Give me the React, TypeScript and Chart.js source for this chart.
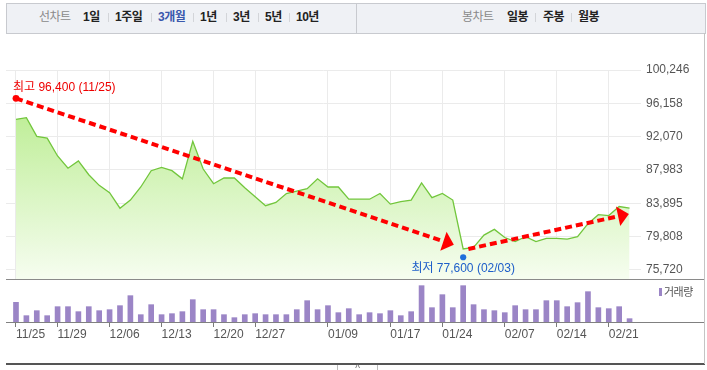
import React, { useEffect, useRef } from 'react';
import { Chart, registerables } from 'chart.js';

Chart.register(...registerables);

// ---------- data ----------
const dates = [
  '11/25', '11/26', '11/27', '11/28', '11/29',
  '12/02', '12/03', '12/04', '12/05', '12/06', '12/09', '12/10', '12/11', '12/12', '12/13',
  '12/16', '12/17', '12/18', '12/19', '12/20', '12/23', '12/24', '12/26', '12/27', '12/30',
  '01/02', '01/03', '01/06', '01/07', '01/08', '01/09', '01/10', '01/13', '01/14', '01/15',
  '01/16', '01/17', '01/20', '01/21', '01/22', '01/23', '01/24', '01/31',
  '02/03', '02/04', '02/05', '02/06', '02/07', '02/10', '02/11', '02/12', '02/13', '02/14',
  '02/17', '02/18', '02/19', '02/20', '02/21', '02/24', '02/25',
];

const closePrices = [
  94200, 94400, 92100, 91900, 89700, 88200, 89100, 87400, 86100, 85200,
  83300, 84300, 85900, 87900, 88300, 87900, 86900, 91500, 88100, 86300,
  87000, 87000, 85800, 84700, 83600, 84000, 85100, 85400, 85700, 86900,
  85900, 85900, 84400, 84400, 84400, 85100, 83800, 84100, 84300, 86400,
  84600, 85100, 84300, 78300, 78500, 80000, 80700, 79700, 79200, 79800,
  79200, 79600, 79600, 79500, 79800, 81400, 82500, 82400, 83500, 83300,
];

// volume (만 주)
const volumes = [
  59, 19, 34, 19, 46, 46, 31, 46, 34, 37,
  49, 79, 22, 52, 22, 25, 31, 67, 37, 37,
  22, 13, 22, 25, 22, 22, 22, 37, 64, 37,
  49, 28, 40, 22, 28, 25, 34, 19, 31, 109,
  43, 82, 43, 109, 52, 37, 34, 28, 49, 37,
  37, 64, 64, 46, 58, 91, 43, 40, 46, 10,
];

const xTickLabels = ['11/25', '11/29', '12/06', '12/13', '12/20', '12/27', '01/09', '01/17', '01/24', '02/07', '02/14', '02/21'];
const priceTicks = [75720, 79808, 83895, 87983, 92070, 96158, 100246];
const priceMin = 74616;
const priceMax = 100246;
const volumeMax = 129;

const highDate = '11/25';
const highValue = 96400;
const lowDate = '02/03';
const lowValue = 77600;

// trend arrows: [startIndex, startValue, endIndex, endValue]
const trendUpStart = [43.5, 78300];
const trendUpEnd = [57.9, 82300];
const trendDownEnd = [41.1, 79250];

const tabLeft = [
  { t: '선차트', x: 39, c: '#8a8a8a', b: false },
  { t: '1일', x: 83, c: '#222', b: true },
  { t: '1주일', x: 115, c: '#222', b: true },
  { t: '3개월', x: 158, c: '#3a58ad', b: true },
  { t: '1년', x: 200, c: '#222', b: true },
  { t: '3년', x: 233, c: '#222', b: true },
  { t: '5년', x: 265, c: '#222', b: true },
  { t: '10년', x: 296, c: '#222', b: true },
  { t: '봉차트', x: 462, c: '#8a8a8a', b: false },
  { t: '일봉', x: 507, c: '#222', b: true },
  { t: '주봉', x: 543, c: '#222', b: true },
  { t: '월봉', x: 578, c: '#222', b: true },
];
const tabSeps = [108, 151, 193, 226, 258, 289, 535, 571];

const FONT = "'Liberation Sans', Arial, 'Noto Sans CJK KR', sans-serif";
const xMin = -0.96;
const xMax = 60.1;
const tickIdx = xTickLabels.map((d) => dates.indexOf(d));

function drawArrow(ctx: CanvasRenderingContext2D, x1: number, y1: number, x2: number, y2: number) {
  ctx.save();
  ctx.strokeStyle = '#ff0000';
  ctx.fillStyle = '#ff0000';
  ctx.lineWidth = 4;
  ctx.setLineDash([7, 4]);
  ctx.beginPath();
  ctx.moveTo(x1, y1);
  ctx.lineTo(x2, y2);
  ctx.stroke();
  ctx.setLineDash([]);
  const a = Math.atan2(y2 - y1, x2 - x1);
  const len = 11;
  const hw = 10;
  ctx.beginPath();
  ctx.moveTo(x2 + Math.cos(a) * len, y2 + Math.sin(a) * len);
  ctx.lineTo(x2 + Math.cos(a + Math.PI / 2) * hw, y2 + Math.sin(a + Math.PI / 2) * hw);
  ctx.lineTo(x2 - Math.cos(a + Math.PI / 2) * hw, y2 - Math.sin(a + Math.PI / 2) * hw);
  ctx.closePath();
  ctx.fill();
  ctx.restore();
}

const annotationPlugin = {
  id: 'hiLoAnnot',
  afterDatasetsDraw(chart: any) {
    const ctx: CanvasRenderingContext2D = chart.ctx;
    const xs = chart.scales.x;
    const ys = chart.scales.y;
    const hx = xs.getPixelForValue(dates.indexOf(highDate));
    const hy = ys.getPixelForValue(highValue) - 3;
    const lx = xs.getPixelForValue(dates.indexOf(lowDate));
    const ly = ys.getPixelForValue(lowValue) + 2.6;

    drawArrow(ctx, hx, hy, xs.getPixelForValue(trendDownEnd[0]), ys.getPixelForValue(trendDownEnd[1]));
    drawArrow(
      ctx,
      xs.getPixelForValue(trendUpStart[0]), ys.getPixelForValue(trendUpStart[1]),
      xs.getPixelForValue(trendUpEnd[0]), ys.getPixelForValue(trendUpEnd[1]),
    );

    ctx.save();
    ctx.fillStyle = '#ff0000';
    ctx.beginPath();
    ctx.arc(hx, hy, 3.4, 0, Math.PI * 2);
    ctx.fill();
    ctx.fillStyle = '#1f6fdb';
    ctx.beginPath();
    ctx.arc(lx, ly, 3.1, 0, Math.PI * 2);
    ctx.fill();

    ctx.font = `12px ${FONT}`;
    ctx.textBaseline = 'middle';
    ctx.fillStyle = '#ee0000';
    ctx.textAlign = 'left';
    ctx.fillText(`최고 ${highValue.toLocaleString('en-US')} (${highDate})`, hx - 3, hy - 11);
    ctx.fillStyle = '#1d5ec9';
    ctx.textAlign = 'center';
    ctx.fillText(`최저 ${lowValue.toLocaleString('en-US')} (${lowDate})`, lx, ly + 11);
    ctx.restore();
  },
};

function PriceChart() {
  const ref = useRef<HTMLCanvasElement>(null);
  useEffect(() => {
    const chart = new Chart(ref.current!, {
      type: 'line',
      data: {
        datasets: [
          {
            data: closePrices.map((v, i) => ({ x: i, y: v })),
            borderColor: '#72c63c',
            borderWidth: 1.3,
            pointRadius: 0,
            tension: 0,
            fill: 'start',
            backgroundColor: (c: any) => {
              const area = c.chart.chartArea;
              if (!area) return 'rgba(190,238,150,0.6)';
              const g = c.chart.ctx.createLinearGradient(0, area.top, 0, area.bottom);
              g.addColorStop(0, 'rgb(176,234,128)');
              g.addColorStop(1, 'rgb(246,253,240)');
              return g;
            },
          },
        ],
      },
      options: {
        animation: false,
        responsive: false,
        devicePixelRatio: 1,
        layout: { padding: { left: 6, right: 0, top: 37, bottom: 0 } },
        plugins: { legend: { display: false }, tooltip: { enabled: false } },
        scales: {
          x: {
            type: 'linear',
            min: xMin,
            max: xMax,
            border: { display: false },
            grid: { color: '#ebebeb', drawTicks: false, lineWidth: 1 },
            ticks: { display: false },
            afterBuildTicks: (s: any) => {
              s.ticks = tickIdx.map((v) => ({ value: v }));
            },
            afterFit: (s: any) => {
              s.height = 0;
              s.paddingLeft = 0;
              s.paddingRight = 0;
            },
          },
          y: {
            position: 'right',
            min: priceMin,
            max: priceMax,
            border: { display: false },
            grid: { color: '#ebebeb', drawTicks: false },
            ticks: {
              padding: 5,
              color: '#555',
              font: { size: 12, family: FONT },
              callback: (v: any) => Number(v).toLocaleString('en-US'),
            },
            afterBuildTicks: (s: any) => {
              s.ticks = priceTicks.map((v) => ({ value: v }));
            },
            afterFit: (s: any) => {
              s.width = 66;
              s.paddingTop = 0;
              s.paddingBottom = 0;
            },
          },
        },
      },
      plugins: [annotationPlugin],
    } as any);
    return () => chart.destroy();
  }, []);
  return (
    <canvas
      ref={ref}
      width={707}
      height={246}
      style={{ position: 'absolute', left: 0, top: 33, width: 707, height: 246 }}
    />
  );
}

function VolumeChart() {
  const ref = useRef<HTMLCanvasElement>(null);
  useEffect(() => {
    const chart = new Chart(ref.current!, {
      type: 'bar',
      data: {
        datasets: [
          {
            data: volumes.map((v, i) => ({ x: i, y: v })),
            backgroundColor: '#9b85c6',
            barThickness: 5,
          },
        ],
      },
      options: {
        animation: false,
        responsive: false,
        devicePixelRatio: 1,
        layout: { padding: { left: 6, right: 66, top: 0, bottom: 0 } },
        plugins: { legend: { display: false }, tooltip: { enabled: false } },
        scales: {
          x: {
            type: 'linear',
            min: xMin,
            max: xMax,
            offset: false,
            border: { display: false },
            grid: { offset: false, drawOnChartArea: false, drawTicks: true, tickLength: 5, color: '#7a7a7a' },
            ticks: {
              align: 'start',
              padding: 0,
              maxRotation: 0,
              autoSkip: false,
              color: '#555',
              font: { size: 12, family: FONT },
              callback: (v: any) => dates[Math.round(Number(v))] ?? '',
            },
            afterBuildTicks: (s: any) => {
              s.ticks = tickIdx.map((v) => ({ value: v }));
            },
            afterFit: (s: any) => {
              s.height = 48;
              s.paddingLeft = 0;
              s.paddingRight = 0;
            },
          },
          y: {
            display: false,
            min: 0,
            max: volumeMax,
          },
        },
      },
    } as any);
    return () => chart.destroy();
  }, []);
  return (
    <canvas
      ref={ref}
      width={707}
      height={91}
      style={{ position: 'absolute', left: 0, top: 279, width: 707, height: 91 }}
    />
  );
}

export default function App() {
  const tabFont: React.CSSProperties = {
    position: 'absolute',
    top: 10,
    fontSize: 12,
    lineHeight: '14px',
    fontFamily: FONT,
    letterSpacing: '-0.5px',
    whiteSpace: 'nowrap',
  };
  return (
    <div style={{ position: 'absolute', left: 0, top: 0, width: 707, height: 370, background: '#fff', overflow: 'hidden' }}>
      {/* tab bar */}
      <div
        style={{
          position: 'absolute', left: 6, top: 3, width: 698, height: 29,
          background: '#eff1f5', border: '1px solid #c8cacf',
        }}
      />
      <div style={{ position: 'absolute', left: 356, top: 4, width: 1, height: 29, background: '#c8cacf' }} />
      {tabLeft.map((t) => (
        <div key={t.t} style={{ ...tabFont, left: t.x, color: t.c, fontWeight: t.b ? 700 : 400 }}>{t.t}</div>
      ))}
      {tabSeps.map((x) => (
        <div key={x} style={{ position: 'absolute', left: x, top: 13, width: 1, height: 9, background: '#d3d5d9' }} />
      ))}

      <PriceChart />
      <VolumeChart />

      {/* separators */}
      <div style={{ position: 'absolute', left: 6, top: 279, width: 699, height: 1, background: '#8a8a8a' }} />
      <div style={{ position: 'absolute', left: 6, top: 322, width: 699, height: 1, background: '#808080' }} />
      <div style={{ position: 'absolute', left: 6, top: 363, width: 699, height: 2, background: '#555' }} />
      <div style={{ position: 'absolute', left: 704, top: 33, width: 1, height: 331, background: '#c4c4c4' }} />

      {/* volume legend */}
      <div style={{ position: 'absolute', left: 659, top: 288, width: 3, height: 8, background: '#9b85c6' }} />
      <div style={{ position: 'absolute', left: 664, top: 285, fontSize: 11, lineHeight: '14px', color: '#555', fontFamily: FONT, letterSpacing: '-0.5px' }}>거래량</div>

      {/* toggle tab */}
      <div
        style={{
          position: 'absolute', left: 337, top: 365, width: 39, height: 12,
          border: '1px solid #bbb', borderTop: 'none', background: '#fff',
          fontSize: 10, lineHeight: '8px', textAlign: 'center', color: '#666', fontFamily: FONT,
        }}
      >
        ^
      </div>
    </div>
  );
}
